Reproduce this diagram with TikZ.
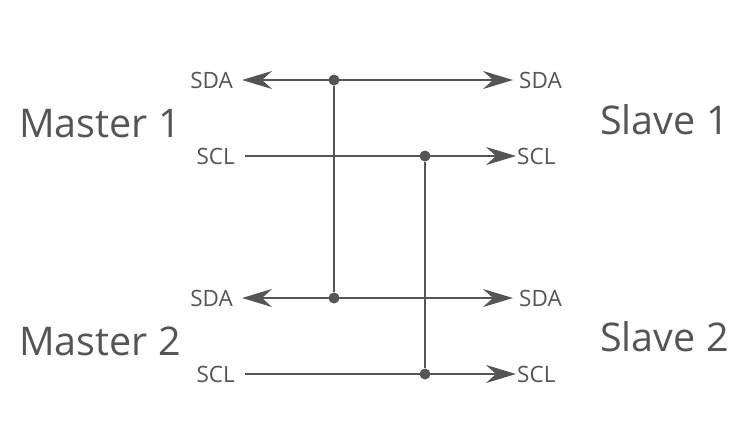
\documentclass[tikz,border=0pt]{standalone}
\usepackage{fontspec}
\setmainfont{Open Sans}
\usetikzlibrary{arrows.meta}
\definecolor{ink}{HTML}{555555}
\begin{document}
\begin{tikzpicture}[x=1pt,y=-1pt,
  big/.style={font=\fontsize{39.5}{44}\selectfont, text=ink, inner sep=0pt},
  pin/.style={font=\fontsize{22.5}{26}\selectfont, text=ink, inner sep=0pt},
  wire/.style={draw=ink, line width=2pt},
  arr/.style={wire, -{Stealth[length=30pt, width=18pt, inset=10pt]}},
  dotn/.style={circle, fill=ink, minimum size=11pt, inner sep=0pt}]
\useasboundingbox (0,0) rectangle (735,424);
% big labels
\node[big, anchor=west] (m1) at (19,124) {Master 1};
\node[big, anchor=west] (m2) at (19,341) {Master 2};
\node[big, anchor=west] (s1) at (600,120) {Slave 1};
\node[big, anchor=west] (s2) at (600,337) {Slave 2};
% pin labels
\node[pin, anchor=east] (lsda1) at (233,80) {SDA};
\node[pin, anchor=east] (lscl1) at (235,156) {SCL};
\node[pin, anchor=east] (lsda2) at (233,298) {SDA};
\node[pin, anchor=east] (lscl2) at (235,374) {SCL};
\node[pin, anchor=west] (rsda1) at (519,80) {SDA};
\node[pin, anchor=west] (rscl1) at (517,156) {SCL};
\node[pin, anchor=west] (rsda2) at (519,298) {SDA};
\node[pin, anchor=west] (rscl2) at (517,374) {SCL};
% junction dots
\node[dotn] (d1) at (334,80) {};
\node[dotn] (d2) at (425,156) {};
\node[dotn] (d3) at (334,298) {};
\node[dotn] (d4) at (425,374) {};
% vertical wires
\draw[wire] (d1) -- (d3);
\draw[wire] (d2) -- (d4);
% SDA 1
\draw[arr, shorten >=9pt] (d1.center) -- (lsda1);
\draw[arr, shorten >=6pt] (d1.center) -- (rsda1);
% SCL 1
\draw[wire, shorten <=10pt] (lscl1) -- (d2.center);
\draw[arr, shorten >=1pt] (d2.center) -- (rscl1);
% SDA 2
\draw[arr, shorten >=9pt] (d3.center) -- (lsda2);
\draw[arr, shorten >=6pt] (d3.center) -- (rsda2);
% SCL 2
\draw[wire, shorten <=10pt] (lscl2) -- (d4.center);
\draw[arr, shorten >=1pt] (d4.center) -- (rscl2);
\end{tikzpicture}
\end{document}
